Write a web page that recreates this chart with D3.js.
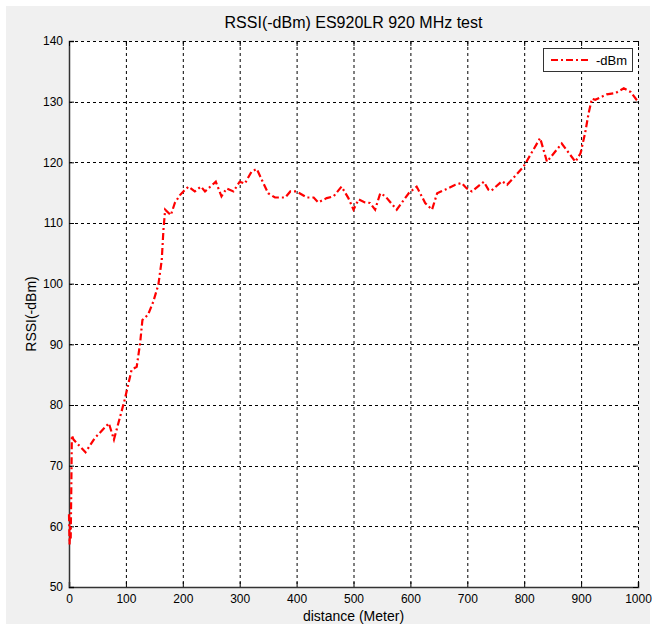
<!DOCTYPE html>
<html><head><meta charset="utf-8">
<script src="https://cdn.jsdelivr.net/npm/d3@7"></script>
<style>body{margin:0;background:#fff;}svg{display:block;font-family:"Liberation Sans",Arial,sans-serif;}</style>
</head><body><svg id="c" width="660" height="628"></svg>
<script>
const distance = [0,1,2,3,4,5,8,29,45,70,79,98,110,119,125,129,139,148,157,163,166,169,179,186,195,201,210,221,232,239,258,268,277,289,300,309,321,330,339,350,362,380,389,400,418,430,438,453,465,479,491,500,509,520,529,538,547,556,564,576,597,611,626,638,647,661,679,690,699,708,729,737,742,761,770,799,828,840,866,890,899,907,913,919,925,945,960,975,987,1000];
const rssi = [62,57,60,58,66,75,74.3,72.2,74.5,77,74.3,80.9,85.8,86.3,90.2,94,94.9,97,99.8,103.9,108.9,112.2,111.3,113.3,114.6,115.2,116,115.2,116,115.2,116.8,114.4,115.7,115.2,116.8,116.5,118.5,118.9,117.1,114.9,114.2,114.2,115.2,115.2,114.2,114.2,113.4,114.1,114.4,116,114.1,112.2,113.9,113.4,113.3,112.2,114.9,114.4,113.5,112.2,114.9,116,113.3,112.2,114.9,115.5,116.3,116.6,115.7,115.2,116.8,115.5,115.3,116.9,116.3,119.3,124,120.1,123.1,120.1,121.5,124.8,128,130.5,130.3,131.2,131.4,132.2,131.6,130];
const xTicks = [0,100,200,300,400,500,600,700,800,900,1000];
const yTicks = [50,60,70,80,90,100,110,120,130,140];
const title = "RSSI(-dBm) ES920LR 920 MHz test";
const xLabel = "distance (Meter)";
const yLabel = "RSSI(-dBm)";
const seriesName = "-dBm";

const svg = d3.select("#c");
const L=69,R=638,T=41,B=587;
svg.append("rect").attr("x",6).attr("y",6).attr("width",644).attr("height",618).attr("fill","#f0f0f0");
const x = d3.scaleLinear().domain([0,1000]).range([L,R]);
const y = d3.scaleLinear().domain([50,140]).range([B,T]);
svg.append("rect").attr("x",L).attr("y",T).attr("width",R-L).attr("height",B-T).attr("fill","#fff");
const g = svg.append("g");
// grid
g.selectAll(".gx").data(xTicks.slice(1,-1)).enter().append("line")
 .attr("x1",d=>x(d)+0.5).attr("x2",d=>x(d)+0.5).attr("y1",T).attr("y2",B)
 .attr("stroke","#000").attr("stroke-width",1).attr("stroke-dasharray","3,3");
g.selectAll(".gy").data(yTicks.slice(1,-1)).enter().append("line")
 .attr("y1",d=>Math.round(y(d))+0.5).attr("y2",d=>Math.round(y(d))+0.5).attr("x1",L).attr("x2",R)
 .attr("stroke","#000").attr("stroke-width",1).attr("stroke-dasharray","3,3");
// top & right dotted border (as in reference)
g.append("line").attr("x1",L).attr("x2",R).attr("y1",T+0.5).attr("y2",T+0.5).attr("stroke","#000").attr("stroke-dasharray","3,3");
g.append("line").attr("x1",R+0.5).attr("x2",R+0.5).attr("y1",T).attr("y2",B).attr("stroke","#000").attr("stroke-dasharray","3,3");
// axes
const xa = svg.append("g").attr("transform",`translate(0,${B})`)
 .call(d3.axisBottom(x).tickValues(xTicks).tickSize(-5).tickPadding(7).tickFormat(d3.format("d")));
const ya = svg.append("g").attr("transform",`translate(${L},0)`)
 .call(d3.axisLeft(y).tickValues(yTicks).tickSize(-5).tickPadding(6).tickFormat(d3.format("d")));
[xa,ya].forEach(a=>{a.select(".domain").attr("stroke","#333").attr("stroke-width",1.5);
 a.selectAll(".tick line").attr("stroke","#000");
 a.selectAll("text").attr("font-size",12).attr("fill","#000").attr("font-family","Liberation Sans Narrow, Liberation Sans, Arial");});
// top ticks
svg.append("g").attr("transform",`translate(0,${T})`).call(d3.axisTop(x).tickValues(xTicks).tickSize(-5).tickFormat(""))
 .call(a=>{a.select(".domain").remove();a.selectAll("line").attr("stroke","#000");});
svg.append("g").attr("transform",`translate(${R},0)`).call(d3.axisRight(y).tickValues(yTicks).tickSize(-5).tickFormat(""))
 .call(a=>{a.select(".domain").remove();a.selectAll("line").attr("stroke","#000");});
// line
const pts = distance.map((d,i)=>[d,rssi[i]]);
svg.append("path").datum(pts).attr("fill","none").attr("stroke","#ff0000").attr("stroke-width",2.2)
 .attr("stroke-dasharray","7,3,2,3")
 .attr("d",d3.line().x(d=>x(d[0])).y(d=>y(d[1])));
// title & labels
svg.append("text").attr("x",(L+R)/2).attr("y",28).attr("text-anchor","middle").attr("font-size",16).text(title);
svg.append("text").attr("x",(L+R)/2).attr("y",621).attr("text-anchor","middle").attr("font-size",14).text(xLabel);
svg.append("text").attr("transform",`translate(36,${(T+B)/2}) rotate(-90)`).attr("text-anchor","middle").attr("font-size",14).text(yLabel);
// legend
const lg = svg.append("g");
lg.append("rect").attr("x",543.5).attr("y",48.5).attr("width",89).attr("height",23).attr("fill","#fff").attr("stroke","#333");
lg.append("line").attr("x1",551).attr("x2",591).attr("y1",60).attr("y2",60).attr("stroke","#ff0000").attr("stroke-width",2.2).attr("stroke-dasharray","7,3,2,3");
lg.append("text").attr("x",596).attr("y",65).attr("font-size",13).text(seriesName);
</script></body></html>
